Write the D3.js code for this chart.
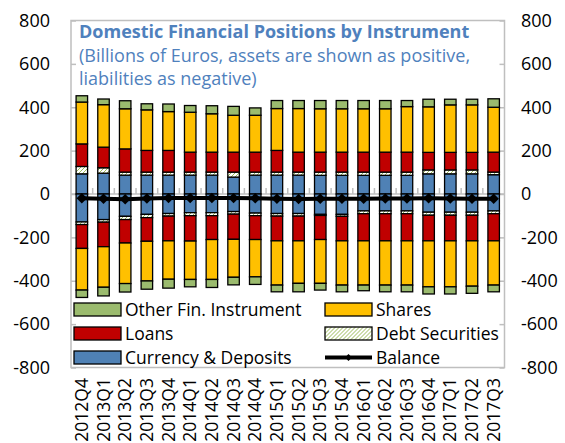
<!DOCTYPE html>
<html>
<head>
<meta charset="utf-8">
<script src="https://d3js.org/d3.v7.min.js"></script>
<style>
  body { margin: 0; background: #fff; }
  text { font-family: "Open Sans", Lato, sans-serif; }
</style>
</head>
<body>
<svg id="chart" width="565" height="443"></svg>
<script>
// quarters
var quarters = ["2012Q4","2013Q1","2013Q2","2013Q3","2013Q4","2014Q1","2014Q2","2014Q3","2014Q4",
  "2015Q1","2015Q2","2015Q3","2015Q4","2016Q1","2016Q2","2016Q3","2016Q4","2017Q1","2017Q2","2017Q3"];

// assets (positive)
var assetsCurrency = [93,96,87,87,87,87,87,78,87,87,87,86,86,86,86,86,93,93,93,89];
var assetsDebt     = [34,25,14,14,14,14,14,23,14,14,14,15,15,15,15,15,18,18,18,12];
var assetsLoans    = [104,95,107,100,100,92,92,92,92,100,92,92,92,92,92,92,81,81,81,92];
var assetsShares   = [193,196,185,187,179,184,177,170,170,193,201,200,200,200,200,210,210,219,219,207];
var assetsOther    = [29,26,37,28,35,31,37,41,34,37,37,38,38,38,38,28,35,26,26,39];

// liabilities (shown as negative)
var liabCurrency = [-129,-118,-103,-94,-90,-86,-86,-81,-88,-90,-90,-94,-94,-78,-78,-78,-84,-84,-84,-78];
var liabDebt     = [-12,-12,-15,-15,-12,-14,-14,-12,-12,-12,-12,-5,-9,-13,-13,-13,-14,-14,-14,-13];
var liabLoans    = [-110,-113,-108,-109,-114,-117,-110,-116,-110,-114,-114,-111,-113,-125,-125,-125,-118,-118,-118,-125];
var liabShares   = [-192,-187,-187,-183,-177,-177,-184,-175,-172,-204,-196,-202,-204,-204,-204,-204,-212,-212,-209,-204];
var liabOther    = [-34,-40,-39,-38,-41,-34,-37,-35,-35,-31,-39,-31,-31,-26,-31,-31,-33,-33,-33,-31];

var balance = [-20,-22,-24,-21,-19,-18,-18,-19,-20,-22,-23,-22,-22,-22,-21,-21,-20,-21,-22,-22];

var yTicks = [800,600,400,200,0,-200,-400,-600,-800];

var keys = ["cd","ds","ln","sh","ot"];
var colors = {cd: "#4f81b5", ds: "url(#hatch)", ln: "#c00000", sh: "#ffc000", ot: "#9bbb6e"};

var svg = d3.select("#chart");
var plotL = 71, plotR = 504.5, plotT = 20.5, plotB = 367.5;

var x = d3.scaleBand().domain(quarters).range([plotL, plotR]).paddingInner(0.47).paddingOuter(0.235);
var xb = d3.scaleBand().domain(quarters).range([plotL, plotR]);
var y = d3.scaleLinear().domain([-800, 800]).range([plotB, plotT]);

// hatch pattern for debt securities
var defs = svg.append("defs");
var pat = defs.append("pattern").attr("id", "hatch").attr("patternUnits", "userSpaceOnUse")
  .attr("width", 4).attr("height", 4);
pat.append("rect").attr("width", 4).attr("height", 4).attr("fill", "#fff");
pat.append("path").attr("d", "M-1,1 l2,-2 M0,4 l4,-4 M3,5 l2,-2")
  .attr("stroke", "#9bbb59").attr("stroke-width", 1);

// plot frame
svg.append("rect").attr("x", plotL).attr("y", plotT).attr("width", plotR - plotL).attr("height", plotB - plotT)
  .attr("fill", "none").attr("stroke", "#bfbfbf").attr("stroke-width", 1.5);

// y axes
var yl = svg.append("g").attr("transform", "translate(" + plotL + ",0)")
  .call(d3.axisRight(y).tickValues(yTicks).tickSize(5).tickFormat(""));
var yr = svg.append("g").attr("transform", "translate(" + plotR + ",0)")
  .call(d3.axisLeft(y).tickValues(yTicks).tickSize(5).tickFormat(""));
[yl, yr].forEach(function (g) {
  g.select(".domain").remove();
  g.selectAll("line").attr("stroke", "#bfbfbf").attr("stroke-width", 1.5);
});

svg.append("g").selectAll("text").data(yTicks).enter().append("text")
  .attr("x", 50).attr("y", function (d) { return y(d); }).attr("dy", "0.35em")
  .attr("text-anchor", "end").attr("font-size", 18).attr("fill", "#000")
  .text(function (d) { return d; });
svg.append("g").selectAll("text").data(yTicks).enter().append("text")
  .attr("x", 521).attr("y", function (d) { return y(d); }).attr("dy", "0.35em")
  .attr("text-anchor", "start").attr("font-size", 18).attr("fill", "#000")
  .text(function (d) { return d; });

// zero line with category ticks
var y0 = y(0);
svg.append("line").attr("x1", plotL).attr("x2", plotR).attr("y1", y0).attr("y2", y0)
  .attr("stroke", "#bfbfbf").attr("stroke-width", 1.5);
svg.append("g").selectAll("line").data(quarters.slice(1)).enter().append("line")
  .attr("x1", function (d) { return xb(d); }).attr("x2", function (d) { return xb(d); })
  .attr("y1", y0).attr("y2", y0 - 6)
  .attr("stroke", "#bfbfbf").attr("stroke-width", 1.5);

// stacks
var assetRows = quarters.map(function (q, i) {
  return {q: q, cd: assetsCurrency[i], ds: assetsDebt[i], ln: assetsLoans[i], sh: assetsShares[i], ot: assetsOther[i]};
});
var liabRows = quarters.map(function (q, i) {
  return {q: q, cd: liabCurrency[i], ds: liabDebt[i], ln: liabLoans[i], sh: liabShares[i], ot: liabOther[i]};
});
var stack = d3.stack().keys(keys).offset(d3.stackOffsetDiverging);
var series = stack(assetRows).concat(stack(liabRows));

svg.append("g").selectAll("g").data(series).enter().append("g")
  .attr("fill", function (s) { return colors[s.key]; })
  .selectAll("rect").data(function (s) { return s; }).enter().append("rect")
  .attr("x", function (d) { return x(d.data.q); })
  .attr("width", x.bandwidth())
  .attr("y", function (d) { return y(Math.max(d[0], d[1])); })
  .attr("height", function (d) { return Math.abs(y(d[0]) - y(d[1])); })
  .attr("stroke", "#000").attr("stroke-width", 1.3);

// balance line
var line = d3.line().x(function (d, i) { return x(quarters[i]) + x.bandwidth() / 2; }).y(function (d) { return y(d); });
svg.append("path").datum(balance).attr("d", line).attr("fill", "none")
  .attr("stroke", "#000").attr("stroke-width", 4);
svg.append("g").selectAll("path").data(balance).enter().append("path")
  .attr("d", d3.symbol().type(d3.symbolDiamond2).size(70))
  .attr("transform", function (d, i) { return "translate(" + (x(quarters[i]) + x.bandwidth() / 2) + "," + y(d) + ")"; })
  .attr("fill", "#000");

// x labels
svg.append("g").selectAll("text").data(quarters).enter().append("text")
  .attr("transform", function (d) { return "translate(" + (x(d) + x.bandwidth() / 2) + ",378) rotate(-90)"; })
  .attr("dy", "0.35em").attr("text-anchor", "end").attr("font-size", 17.5).attr("fill", "#000")
  .text(function (d) { return d; });

// title
var title = svg.append("g").attr("fill", "#4f81bd");
title.append("text").attr("x", 79).attr("y", 38).attr("font-size", 18).attr("font-weight", "bold")
  .text("Domestic Financial Positions by Instrument");
title.append("text").attr("x", 79).attr("y", 62).attr("font-size", 18)
  .text("(Billions of Euros, assets are shown as positive,");
title.append("text").attr("x", 79).attr("y", 85).attr("font-size", 18)
  .text("liabilities as negative)");

// legend
var legendItems = [
  {label: "Other Fin. Instrument", key: "ot", col: 0, row: 0},
  {label: "Shares", key: "sh", col: 1, row: 0},
  {label: "Loans", key: "ln", col: 0, row: 1},
  {label: "Debt Securities", key: "ds", col: 1, row: 1},
  {label: "Currency & Deposits", key: "cd", col: 0, row: 2},
  {label: "Balance", key: "bal", col: 1, row: 2}
];
var colX = [74, 325], rowY = [309.5, 333.5, 357.5];
var lg = svg.append("g").selectAll("g").data(legendItems).enter().append("g")
  .attr("transform", function (d) { return "translate(" + colX[d.col] + "," + rowY[d.row] + ")"; });
lg.filter(function (d) { return d.key !== "bal"; }).append("rect")
  .attr("x", 0).attr("y", -6.5).attr("width", 47).attr("height", 13)
  .attr("fill", function (d) { return colors[d.key]; }).attr("stroke", "#000").attr("stroke-width", 1.3);
lg.filter(function (d) { return d.key === "bal"; }).append("line")
  .attr("x1", 0).attr("x2", 47).attr("stroke", "#000").attr("stroke-width", 4);
lg.filter(function (d) { return d.key === "bal"; }).append("path")
  .attr("d", d3.symbol().type(d3.symbolDiamond2).size(30)).attr("transform", "translate(23.5,0)");
lg.append("text").attr("x", 51).attr("dy", "0.35em").attr("font-size", 17.5).attr("fill", "#000")
  .text(function (d) { return d.label; });
</script>
</body>
</html>
